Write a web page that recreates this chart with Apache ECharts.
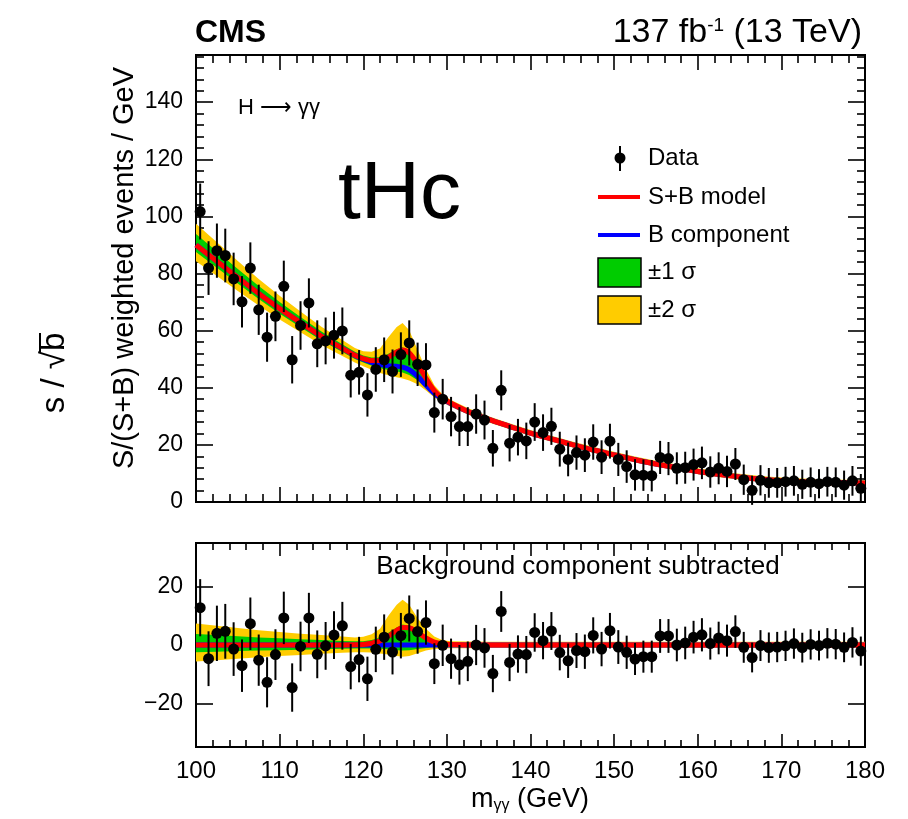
<!DOCTYPE html>
<html>
<head>
<meta charset="utf-8">
<script src="https://cdn.jsdelivr.net/npm/echarts@6/dist/echarts.min.js"></script>
<style>
html, body { margin: 0; padding: 0; background: #ffffff; }
#chart { width: 908px; height: 819px; }
</style>
</head>
<body>
<div id="chart"></div>
<script>
// Diphoton mass bin centres (GeV), 1 GeV bins
const massBins = [
  100.5, 101.5, 102.5, 103.5, 104.5, 105.5, 106.5, 107.5, 108.5, 109.5,
  110.5, 111.5, 112.5, 113.5, 114.5, 115.5, 116.5, 117.5, 118.5, 119.5,
  120.5, 121.5, 122.5, 123.5, 124.5, 125.5, 126.5, 127.5, 128.5, 129.5,
  130.5, 131.5, 132.5, 133.5, 134.5, 135.5, 136.5, 137.5, 138.5, 139.5,
  140.5, 141.5, 142.5, 143.5, 144.5, 145.5, 146.5, 147.5, 148.5, 149.5,
  150.5, 151.5, 152.5, 153.5, 154.5, 155.5, 156.5, 157.5, 158.5, 159.5,
  160.5, 161.5, 162.5, 163.5, 164.5, 165.5, 166.5, 167.5, 168.5, 169.5,
  170.5, 171.5, 172.5, 173.5, 174.5, 175.5, 176.5, 177.5, 178.5, 179.5
];

// S/(S+B) weighted events per GeV
const weightedEvents = [
  101.7, 81.9, 88.0, 86.3, 78.1, 70.1, 81.9, 67.3, 57.7, 65.0,
  75.5, 49.8, 61.8, 69.7, 55.4, 56.4, 58.4, 59.9, 44.4, 45.4,
  37.5, 46.4, 49.8, 45.7, 51.6, 55.7, 48.2, 48.0, 31.3, 36.0,
  29.9, 26.4, 26.4, 30.8, 28.7, 18.8, 39.1, 20.6, 22.7, 21.4,
  28.0, 24.3, 26.5, 18.5, 14.9, 17.3, 16.4, 21.0, 15.7, 21.3,
  14.9, 12.4, 9.5, 9.4, 9.2, 15.6, 15.2, 11.8, 12.0, 13.1,
  13.7, 10.5, 11.8, 10.7, 13.3, 7.8, 4.1, 7.6, 6.7, 6.7,
  7.1, 7.4, 6.2, 6.9, 6.4, 7.1, 6.9, 5.9, 7.4, 4.8
];

// Same events with the background component subtracted
const bkgSubtracted = [
  12.8, -4.7, 4.0, 4.7, -1.4, -7.1, 7.3, -5.2, -12.8, -3.3,
  9.3, -14.6, -0.5, 9.3, -3.2, -0.3, 3.4, 6.6, -7.4, -5.0,
  -11.6, -1.5, 2.7, -2.4, 3.2, 9.1, 4.6, 7.7, -6.4, -0.1,
  -4.7, -6.8, -5.6, 0.0, -1.0, -9.8, 11.5, -6.0, -3.1, -3.3,
  4.3, 1.5, 4.8, -2.6, -5.4, -1.9, -2.3, 3.3, -1.4, 4.9,
  -0.7, -2.5, -4.8, -4.0, -4.0, 3.1, 3.1, 0.0, 0.7, 2.7,
  3.5, 0.5, 2.4, 1.5, 4.6, -0.8, -4.3, -0.2, -0.9, -0.7,
  -0.3, 0.5, -0.9, 0.2, -0.2, 0.6, 0.3, -0.8, 0.9, -2.1
];

// Statistical uncertainty on each bin
const statErr = [
  9.8, 9.4, 9.5, 9.4, 9.2, 9.0, 9.0, 8.8, 8.6, 8.7,
  9.0, 8.3, 8.5, 8.6, 8.2, 8.2, 8.2, 8.2, 7.8, 7.8,
  7.6, 7.8, 7.8, 7.7, 7.8, 7.9, 7.6, 7.6, 7.0, 7.1,
  6.9, 6.8, 6.8, 6.9, 6.8, 6.4, 7.0, 6.4, 6.4, 6.4,
  6.6, 6.4, 6.5, 6.1, 5.9, 6.0, 5.9, 6.2, 5.9, 6.1,
  5.8, 5.7, 5.5, 5.5, 5.5, 5.8, 5.8, 5.6, 5.6, 5.6,
  5.7, 5.5, 5.6, 5.5, 5.6, 5.3, 5.1, 5.3, 5.2, 5.2,
  5.2, 5.2, 5.1, 5.2, 5.1, 5.2, 5.2, 5.1, 5.2, 5.0
];

// Fit model, sampled along the mass axis
const curveMass = [
  100, 102.5, 105, 107.5, 110, 112.5, 115, 117.5, 119, 120,
  121, 122, 123, 124, 124.7, 125.5, 126.5, 127.5, 128.5, 129.5,
  130.5, 132.5, 135, 137.5, 140, 142.5, 145, 147.5, 150, 152.5,
  155, 157.5, 160, 162.5, 165, 167.5, 170, 172.5, 175, 177.5, 180
];
// B component
const bkgModel = [
  90.0, 84.3, 78.6, 73.0, 67.7, 62.8, 58.0, 53.8, 51.3, 50.0,
  48.9, 48.1, 47.7, 47.5, 47.2, 46.3, 44.0, 40.9, 38.0, 36.0,
  34.4, 31.7, 28.9, 26.5, 24.1, 22.1, 20.1, 18.2, 16.5, 14.8,
  13.3, 12.0, 10.7, 9.7, 8.8, 8.0, 7.5, 7.1, 6.8, 6.7, 6.6
];
// Signal part of the S+B model
const sigModel = [
  0, 0, 0, 0, 0, 0, 0, 0, 0.05, 0.2,
  0.6, 1.4, 3.0, 5.0, 6.0, 5.9, 4.3, 2.4, 1.0, 0.4,
  0.15, 0, 0, 0, 0, 0, 0, 0, 0, 0,
  0, 0, 0, 0, 0, 0, 0, 0, 0, 0, 0
];
// Uncertainty bands, relative to the B component
const band1Lo = [
  -2.5, -2.3, -2.1, -1.9, -1.8, -1.6, -1.5, -1.3, -1.2, -1.2,
  -1.2, -1.3, -1.5, -1.8, -1.9, -1.8, -1.4, -1.0, -0.7, -0.6,
  -0.55, -0.5, -0.5, -0.5, -0.5, -0.5, -0.5, -0.5, -0.5, -0.5,
  -0.5, -0.5, -0.5, -0.5, -0.5, -0.5, -0.5, -0.5, -0.5, -0.5, -0.5
];
const band1Hi = [
  3.8, 3.4, 3.0, 2.6, 2.3, 2.0, 1.7, 1.4, 1.3, 1.3,
  1.7, 2.6, 4.2, 6.0, 7.0, 6.6, 4.8, 2.6, 1.2, 0.7,
  0.6, 0.55, 0.5, 0.5, 0.5, 0.5, 0.5, 0.5, 0.5, 0.5,
  0.5, 0.5, 0.5, 0.5, 0.5, 0.5, 0.5, 0.5, 0.5, 0.5, 0.5
];
const band2Lo = [
  -5.7, -5.2, -4.7, -4.2, -3.8, -3.4, -3.0, -2.7, -2.5, -2.5,
  -2.6, -2.9, -3.3, -3.8, -4.0, -3.8, -2.8, -1.9, -1.4, -1.2,
  -1.15, -1.1, -1.05, -1.05, -1.0, -1.0, -1.0, -1.0, -1.0, -1.0,
  -1.0, -1.0, -1.0, -1.0, -1.0, -1.0, -1.0, -1.0, -1.0, -1.0, -1.0
];
const band2Hi = [
  7.4, 6.6, 5.8, 5.1, 4.5, 3.9, 3.4, 2.9, 2.6, 2.8,
  3.7, 5.6, 10.0, 13.8, 15.5, 13.8, 9.2, 5.6, 2.9, 1.6,
  1.3, 1.2, 1.15, 1.1, 1.1, 1.1, 1.1, 1.1, 1.1, 1.1,
  1.1, 1.1, 1.1, 1.1, 1.1, 1.1, 1.1, 1.1, 1.1, 1.1, 1.1
];

// Axis ticks
const massTicks = [100, 110, 120, 130, 140, 150, 160, 170, 180];
const upperTicks = [0, 20, 40, 60, 80, 100, 120, 140];
const lowerTicks = [-20, 0, 20];
const upperMinor = [];
for (let v = 4; v <= 156; v += 4) if (v % 20 !== 0) upperMinor.push(v);

const FONT = '"Liberation Sans", Arial, Helvetica, sans-serif';
const C_RED = '#ff0000', C_BLUE = '#0000ff', C_GREEN = '#00cc00', C_YELLOW = '#ffcc00';

const chart = echarts.init(document.getElementById('chart'), null, { renderer: 'canvas' });

function massAxis(grid, pos, labels, majorLen, minorLen) {
  return {
    type: 'value', gridIndex: grid, position: pos, min: 100, max: 180, interval: 10,
    axisLine: { show: false, onZero: false },
    axisTick: { show: true, inside: true, length: majorLen, lineStyle: { color: '#000', width: 1.6 } },
    minorTick: { show: true, splitNumber: 5, length: minorLen, lineStyle: { color: '#000', width: 1.6 } },
    splitLine: { show: false }, minorSplitLine: { show: false },
    axisLabel: labels
      ? { show: true, customValues: massTicks, color: '#000', fontSize: 24, fontFamily: FONT, margin: 12 }
      : { show: false }
  };
}
function valueAxis(grid, pos, min, max, ticks, len, labels) {
  return {
    type: 'value', gridIndex: grid, position: pos, min: min, max: max,
    axisLine: { show: false, onZero: false },
    axisTick: { show: true, inside: true, length: len, customValues: ticks, lineStyle: { color: '#000', width: 1.6 } },
    splitLine: { show: false },
    axisLabel: labels
      ? { show: true, customValues: ticks, color: '#000', fontSize: 23, fontFamily: FONT, margin: 13,
          formatter: v => (v < 0 ? '\u2212' + Math.abs(v) : String(v)) }
      : { show: false }
  };
}

// Band polygon between two arrays offset from a base curve
function bandSeries(xAxisIndex, yAxisIndex, base, lo, hi, color, z) {
  return {
    type: 'custom', xAxisIndex, yAxisIndex, z, silent: true, animation: false,
    data: [[curveMass[0], 0]],
    renderItem: function (params, api) {
      const pts = [];
      for (let i = 0; i < curveMass.length; i++) pts.push(api.coord([curveMass[i], base[i] + hi[i]]));
      for (let i = curveMass.length - 1; i >= 0; i--) pts.push(api.coord([curveMass[i], base[i] + lo[i]]));
      return { type: 'polygon', shape: { points: pts, smooth: 0 }, style: { fill: color } };
    }
  };
}
function curveSeries(xAxisIndex, yAxisIndex, values, color, z) {
  return {
    type: 'line', xAxisIndex, yAxisIndex, z, silent: true, animation: false,
    showSymbol: false, smooth: 0.3,
    data: curveMass.map((m, i) => [m, values[i]]),
    lineStyle: { color: color, width: 5 }
  };
}
function errSeries(xAxisIndex, yAxisIndex, values, z) {
  return {
    type: 'custom', xAxisIndex, yAxisIndex, z, silent: true, animation: false,
    data: massBins.map((m, i) => [m, values[i], statErr[i]]),
    renderItem: function (params, api) {
      const a = api.coord([api.value(0), api.value(1) - api.value(2)]);
      const b = api.coord([api.value(0), api.value(1) + api.value(2)]);
      return { type: 'line', shape: { x1: a[0], y1: a[1], x2: b[0], y2: b[1] },
               style: { stroke: '#000', lineWidth: 2 } };
    }
  };
}
function pointSeries(xAxisIndex, yAxisIndex, values, z) {
  return {
    type: 'scatter', xAxisIndex, yAxisIndex, z, silent: true, animation: false,
    symbol: 'circle', symbolSize: 11,
    data: massBins.map((m, i) => [m, values[i]]),
    itemStyle: { color: '#000', opacity: 1 }
  };
}

const zeros = curveMass.map(() => 0);
const upperRed = bkgModel.map((b, i) => b + sigModel[i]);

const option = {
  animation: false,
  backgroundColor: '#ffffff',
  grid: [
    { left: 196, right: 43, top: 55, height: 447, show: true, borderColor: '#000', borderWidth: 2, backgroundColor: 'transparent' },
    { left: 196, right: 43, top: 543, height: 204, show: true, borderColor: '#000', borderWidth: 2, backgroundColor: 'transparent' }
  ],
  xAxis: [
    massAxis(0, 'bottom', false, 15, 8),
    massAxis(0, 'top', false, 15, 8),
    massAxis(1, 'bottom', true, 13, 7),
    massAxis(1, 'top', false, 13, 7)
  ],
  yAxis: [
    valueAxis(0, 'left', 0, 156.5, upperTicks, 17, true),
    valueAxis(0, 'left', 0, 156.5, upperMinor, 8, false),
    valueAxis(0, 'right', 0, 156.5, upperTicks, 17, false),
    valueAxis(0, 'right', 0, 156.5, upperMinor, 8, false),
    valueAxis(1, 'left', -35, 35, lowerTicks, 17, true),
    valueAxis(1, 'right', -35, 35, lowerTicks, 17, false)
  ],
  series: [
    bandSeries(0, 0, bkgModel, band2Lo, band2Hi, C_YELLOW, 1),
    bandSeries(0, 0, bkgModel, band1Lo, band1Hi, C_GREEN, 2),
    curveSeries(0, 0, bkgModel, C_BLUE, 3),
    curveSeries(0, 0, upperRed, C_RED, 4),
    errSeries(0, 0, weightedEvents, 5),
    pointSeries(0, 0, weightedEvents, 6),

    bandSeries(2, 4, zeros, band2Lo, band2Hi, C_YELLOW, 1),
    bandSeries(2, 4, zeros, band1Lo, band1Hi, C_GREEN, 2),
    curveSeries(2, 4, zeros, C_BLUE, 3),
    curveSeries(2, 4, sigModel, C_RED, 4),
    errSeries(2, 4, bkgSubtracted, 5),
    pointSeries(2, 4, bkgSubtracted, 6)
  ],
  graphic: [
    { type: 'text', x: 195, y: 33, style: { text: 'CMS', font: 'bold 32px ' + FONT, fill: '#000', verticalAlign: 'middle' } },
    { type: 'text', x: 862, y: 33, style: {
        text: '{a|137 fb}{s|-1}{a| (13 TeV)}', align: 'right', verticalAlign: 'middle', fill: '#000',
        rich: { a: { fontSize: 34, fontFamily: FONT, fill: '#000' },
                s: { fontSize: 19, fontFamily: FONT, fill: '#000', verticalAlign: 'top' } } } },
    { type: 'text', x: 238, y: 108, style: { text: 'H \u27f6 \u03b3\u03b3', fontSize: 22, fontFamily: FONT, fill: '#000', verticalAlign: 'middle' } },
    { type: 'text', x: 338, y: 195, style: { text: 'tHc', fontSize: 82, fontFamily: FONT, fill: '#000', verticalAlign: 'middle' } },

    // Legend
    { type: 'line', shape: { x1: 620, y1: 146, x2: 620, y2: 171 }, style: { stroke: '#000', lineWidth: 2 } },
    { type: 'circle', shape: { cx: 620, cy: 158, r: 5.5 }, style: { fill: '#000' } },
    { type: 'line', shape: { x1: 598, y1: 197, x2: 640, y2: 197 }, style: { stroke: C_RED, lineWidth: 4 } },
    { type: 'line', shape: { x1: 598, y1: 235, x2: 640, y2: 235 }, style: { stroke: C_BLUE, lineWidth: 4 } },
    { type: 'rect', shape: { x: 598, y: 258, width: 43, height: 29 }, style: { fill: C_GREEN, stroke: '#000', lineWidth: 1.5 } },
    { type: 'rect', shape: { x: 598, y: 296, width: 43, height: 28 }, style: { fill: C_YELLOW, stroke: '#000', lineWidth: 1.5 } },
    { type: 'text', x: 648, y: 158, style: { text: 'Data', fontSize: 24, fontFamily: FONT, fill: '#000', verticalAlign: 'middle' } },
    { type: 'text', x: 648, y: 197, style: { text: 'S+B model', fontSize: 24, fontFamily: FONT, fill: '#000', verticalAlign: 'middle' } },
    { type: 'text', x: 648, y: 235, style: { text: 'B component', fontSize: 24, fontFamily: FONT, fill: '#000', verticalAlign: 'middle' } },
    { type: 'text', x: 648, y: 272, style: { text: '\u00b11 \u03c3', fontSize: 24, fontFamily: FONT, fill: '#000', verticalAlign: 'middle' } },
    { type: 'text', x: 648, y: 310, style: { text: '\u00b12 \u03c3', fontSize: 24, fontFamily: FONT, fill: '#000', verticalAlign: 'middle' } },

    { type: 'text', x: 578, y: 567, style: { text: 'Background component subtracted', fontSize: 26, fontFamily: FONT, fill: '#000', align: 'center', verticalAlign: 'middle' } },

    // Axis titles
    { type: 'text', x: 125, y: 268, rotation: Math.PI / 2, style: {
        text: 'S/(S+B) weighted events / GeV', fontSize: 29, fontFamily: FONT, fill: '#000', align: 'center', verticalAlign: 'middle' } },
    { type: 'group', x: 55, y: 373, rotation: Math.PI / 2, children: [
        { type: 'text', x: 0, y: 0, style: { text: 's / \u221ab', fontSize: 33, fontFamily: FONT, fill: '#000', align: 'center', verticalAlign: 'middle' } },
        { type: 'line', shape: { x1: 20, y1: -15, x2: 40, y2: -15 }, style: { stroke: '#000', lineWidth: 2 } }
    ] },
    { type: 'text', x: 530, y: 800, style: {
        text: '{a|m}{s|\u03b3\u03b3}{a| (GeV)}', align: 'center', verticalAlign: 'middle', fill: '#000',
        rich: { a: { fontSize: 27, fontFamily: FONT, fill: '#000' },
                s: { fontSize: 16, fontFamily: FONT, fill: '#000', verticalAlign: 'bottom' } } } }
  ]
};

chart.setOption(option);
</script>
</body>
</html>
